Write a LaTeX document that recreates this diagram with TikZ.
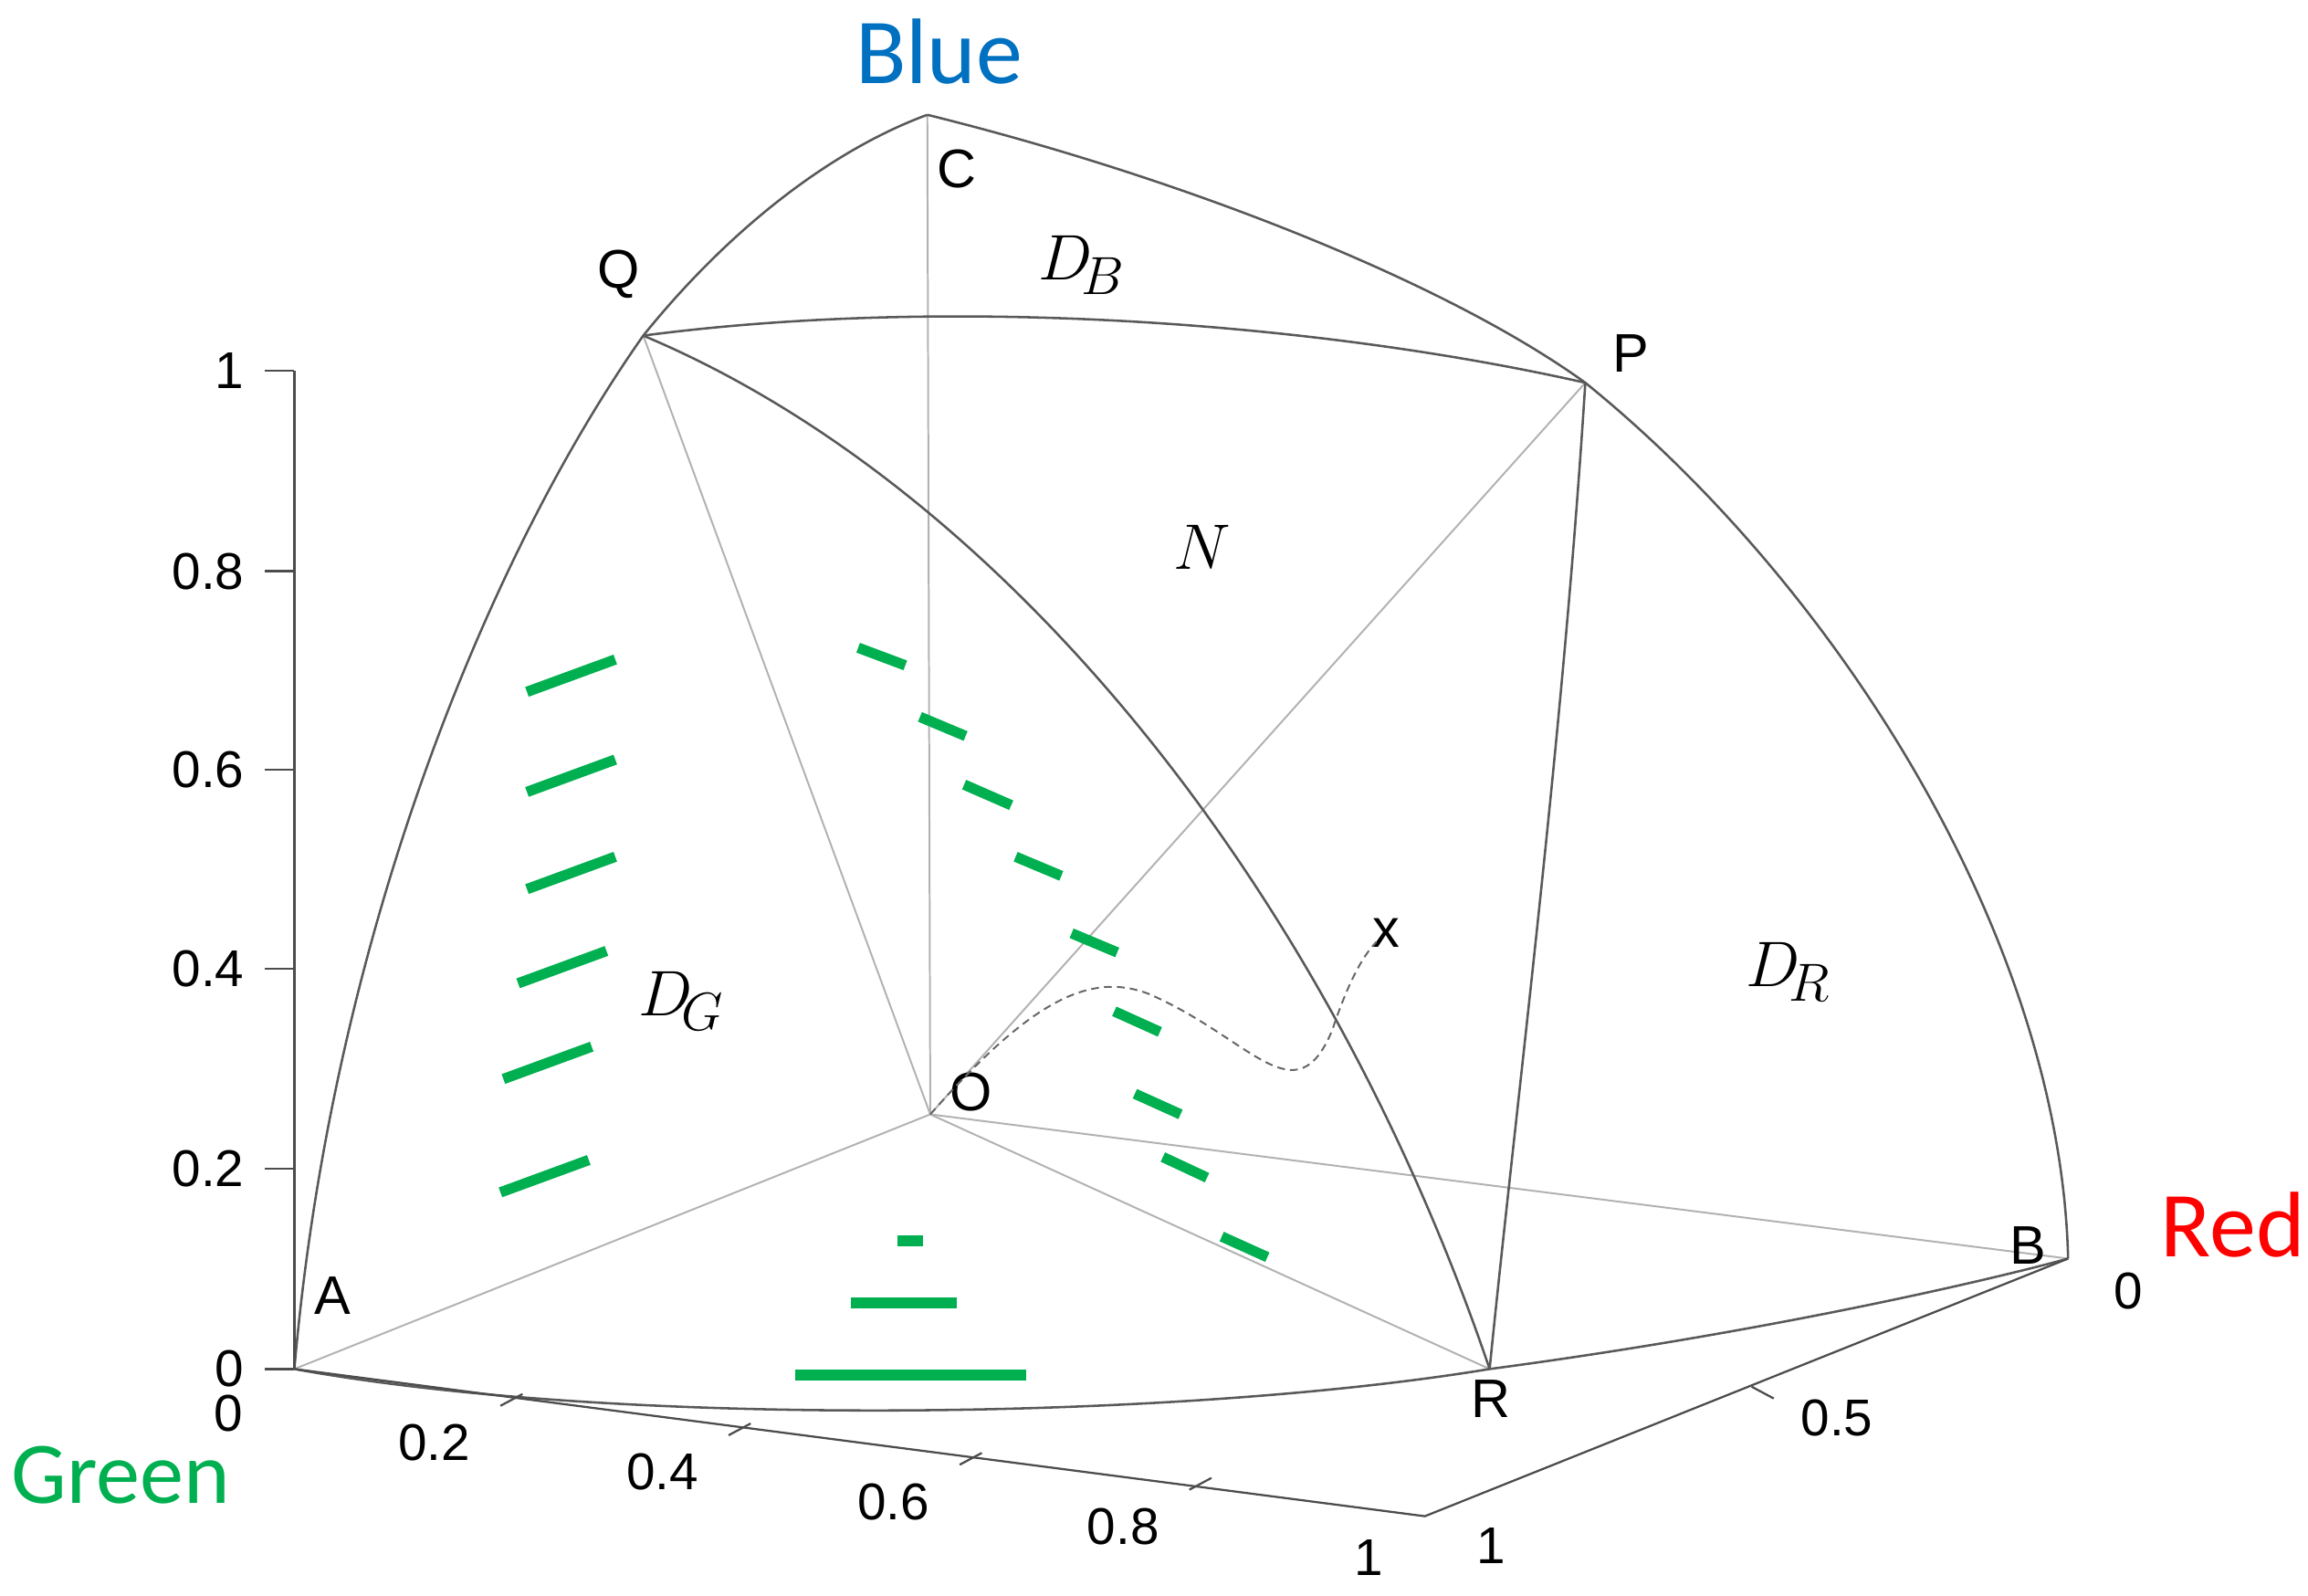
\documentclass[tikz,border=0pt]{standalone}
\usepackage{fontspec}
\setmainfont{Liberation Serif}
\setsansfont{Liberation Sans}
\newfontfamily\carlitofont{Carlito}
\begin{document}
\begin{tikzpicture}[x=0.02cm,y=-0.02cm,
  edge/.style={draw=black!65,line width=0.9pt},
  faint/.style={draw=black!30,line width=0.7pt},
  axis/.style={draw=black!70,line width=0.8pt},
  gdash/.style={draw=green!60!black,line width=4pt},
  tick/.style={font=\sffamily\fontsize{20}{20}\selectfont},
  pt/.style={font=\sffamily\fontsize{21}{21}\selectfont},
  dl/.style={font=\fontsize{32}{32}\selectfont\itshape}]
\useasboundingbox (0,0) rectangle (1568,1084);
\coordinate (A) at (200,930); \coordinate (C) at (630,78);
\coordinate (Q) at (437,228); \coordinate (P) at (1077,260);
\coordinate (O) at (632,757); \coordinate (R) at (1012,930);
\coordinate (B) at (1405,855); \coordinate (F) at (968,1030);
\coordinate (X) at (935,640);
% faint lines
\foreach \p in {A,C,Q,P,R,B} \draw[faint] (O) -- (\p);
% arcs
\draw[edge] (A) .. controls (225,640) and (330,380) .. (Q) .. controls (500,150) and (570,100) .. (C);
\draw[edge] (C) .. controls (800,120) and (980,190) .. (P) .. controls (1250,400) and (1400,640) .. (B);
\draw[edge] (A) .. controls (420,970) and (800,965) .. (R) .. controls (1200,905) and (1350,870) .. (B);
\draw[edge] (Q) .. controls (650,200) and (900,220) .. (P);
\draw[edge] (Q) .. controls (680,330) and (900,600) .. (R);
\draw[edge] (P) .. controls (1062,500) and (1030,750) .. (R);
% axes
\draw[axis] (200,252) -- (A);
\foreach \y/\l in {252/1,388/0.8,523/0.6,658/0.4,794/0.2,930/0}{
  \draw[axis] (180,\y) -- (200,\y);
  \node[tick,anchor=east] at (172,\y) {\l};}
\draw[axis] (A) -- (F) -- (B);
\foreach \x/\y/\l in {340/955/0.2,495/975/0.4,652/995/0.6,808/1012/0.8}{
  \draw[axis] (\x,\y) -- (\x+15,\y-8);
  \node[tick] at (\x-45,\y+25) {\l};}
\node[tick] at (155,960) {0};
\node[tick] at (930,1058) {1};
\draw[axis] (1190,942) -- (1205,950);
\node[tick] at (1013,1050) {1};
\node[tick] at (1248,963) {0.5};
\node[tick] at (1446,877) {0};
% point labels
\node[pt] at (650,115) {C};
\node[pt] at (420,186) {Q};
\node[pt] at (1108,240) {P};
\node[pt] at (660,742) {O};
\node[pt] at (1013,950) {R};
\node[pt] at (1378,846) {B};
\node[pt] at (226,880) {A};
\node[pt] at (942,634) {x};
\draw[black!60,densely dashed,line width=0.7pt] (O) .. controls (700,680) and (740,660) .. (780,675)
  .. controls (850,705) and (880,760) .. (905,700) .. controls (915,670) and (925,650) .. (X);
% region labels
\node[dl] at (735,180) {$D_{\!B}$};
\node[dl] at (817,372) {$N$};
\node[dl] at (463,680) {$D_{\!G}$};
\node[dl] at (1215,660) {$D_{\!R}$};
% colour labels
\node[font=\carlitofont\fontsize{36}{36}\selectfont,text={rgb,255:red,0;green,112;blue,192}] at (638,35) {Blue};
\node[font=\carlitofont\fontsize{36}{36}\selectfont,text=red] at (1517,832) {Red};
\node[font=\carlitofont\fontsize{34}{34}\selectfont,text={rgb,255:red,0;green,176;blue,80}] at (82,1002) {Green};
% green marks
\begin{scope}[every path/.style={gdash,draw={rgb,255:red,0;green,176;blue,80}}]
\draw (358,470) -- (418,448); \draw (358,538) -- (418,516); \draw (358,604) -- (418,582);
\draw (352,668) -- (412,646); \draw (342,733) -- (402,711); \draw (340,810) -- (400,788);
\foreach \ax/\ay/\bx/\by in {583/440/615/452, 625/487/656/500, 655/533/687/547, 690/582/721/595,
  728/634/759/647, 757/687/788/701, 771/743/802/757, 790/786/820/800, 830/840/861/854}
  \draw (\ax,\ay) -- (\bx,\by);
\draw (610,843) -- (627,843); \draw (578,885) -- (650,885); \draw (540,934) -- (697,934);
\end{scope}
\end{tikzpicture}
\end{document}
